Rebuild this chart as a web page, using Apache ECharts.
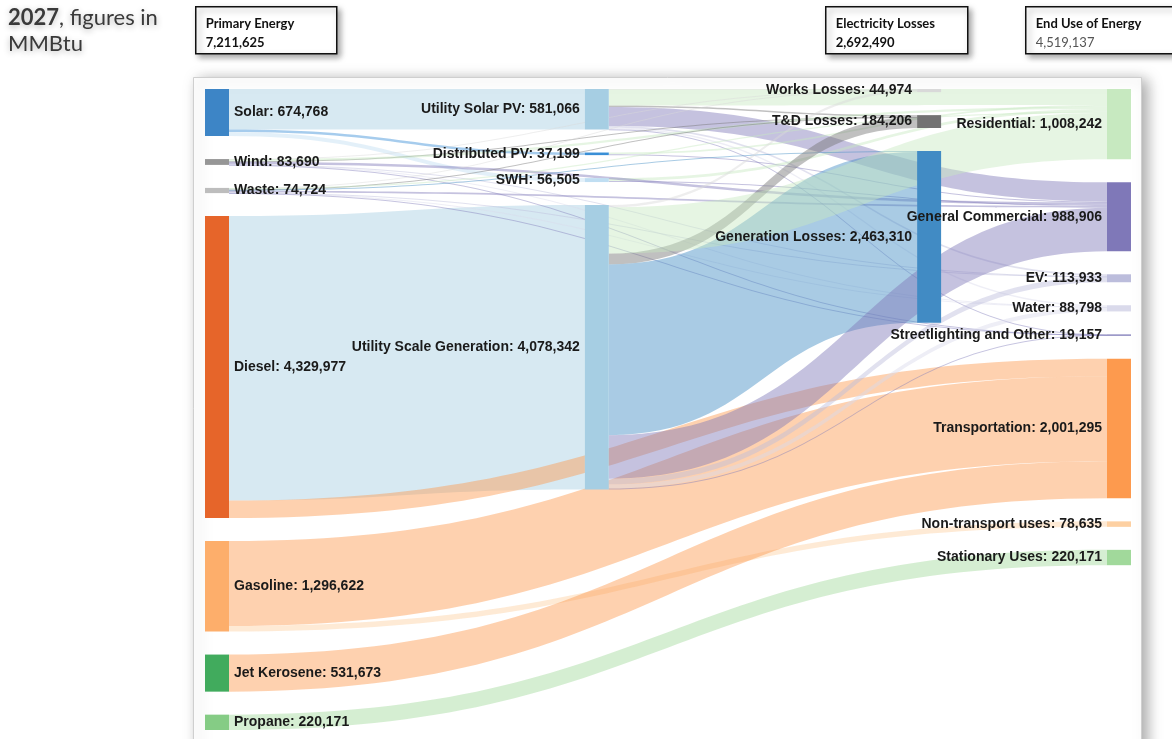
<!DOCTYPE html>
<html>
<head>
<meta charset="utf-8">
<title>2027 energy flows (MMBtu)</title>
<script src="https://cdn.jsdelivr.net/npm/echarts@6/dist/echarts.min.js"></script>
<style>
  html, body { margin: 0; padding: 0; background: #fff; }
  #chart { width: 1172px; height: 739px; }
</style>
</head>
<body>
<div id="chart"></div>
<script>
// node names and values, one list per column
const primaryNodes = ['Solar', 'Wind', 'Waste', 'Diesel', 'Gasoline', 'Jet Kerosene', 'Propane']
const primaryValues = [674768, 83690, 74724, 4329977, 1296622, 531673, 220171]
const conversionNodes = ['Utility Solar PV', 'Distributed PV', 'SWH', 'Utility Scale Generation']
const conversionValues = [581066, 37199, 56505, 4078342]
const lossNodes = ['Works Losses', 'T&D Losses', 'Generation Losses']
const lossValues = [44974, 184206, 2463310]
const endUseNodes = ['Residential', 'General Commercial', 'EV', 'Water', 'Streetlighting and Other',
  'Transportation', 'Non-transport uses', 'Stationary Uses']
const endUseValues = [1008242, 988906, 113933, 88798, 19157, 2001295, 78635, 220171]

// flows [source, target, MMBtu]
const fuelFlows = [
  ['Solar', 'Utility Solar PV', 581066],
  ['Solar', 'Distributed PV', 37199],
  ['Solar', 'SWH', 56505],
  ['Diesel', 'Utility Scale Generation', 4078342],
  ['Diesel', 'Transportation', 251635],
  ['Gasoline', 'Transportation', 1217987],
  ['Gasoline', 'Non-transport uses', 78635],
  ['Jet Kerosene', 'Transportation', 531673],
  ['Propane', 'Stationary Uses', 220171]
]
const solarFlows = [
  ['Utility Solar PV', 'Works Losses', 7066],
  ['Utility Solar PV', 'T&D Losses', 20000],
  ['Utility Solar PV', 'Residential', 230000],
  ['Utility Solar PV', 'General Commercial', 275000],
  ['Utility Solar PV', 'EV', 25000],
  ['Utility Solar PV', 'Water', 20000],
  ['Utility Solar PV', 'Streetlighting and Other', 4000],
  ['Distributed PV', 'Residential', 25000],
  ['Distributed PV', 'General Commercial', 12199],
  ['SWH', 'Residential', 40000],
  ['SWH', 'General Commercial', 16505]
]
const windWasteFlows = [
  ['Wind', 'Works Losses', 3000],
  ['Wind', 'T&D Losses', 5000],
  ['Wind', 'Residential', 30000],
  ['Wind', 'General Commercial', 35690],
  ['Wind', 'EV', 5000],
  ['Wind', 'Water', 4000],
  ['Wind', 'Streetlighting and Other', 1000],
  ['Waste', 'Works Losses', 2000],
  ['Waste', 'T&D Losses', 4000],
  ['Waste', 'Generation Losses', 16000],
  ['Waste', 'Residential', 20000],
  ['Waste', 'General Commercial', 25000],
  ['Waste', 'EV', 4000],
  ['Waste', 'Water', 3000],
  ['Waste', 'Streetlighting and Other', 724]
]
const generationFlows = [
  ['Utility Scale Generation', 'Works Losses', 32908],
  ['Utility Scale Generation', 'T&D Losses', 155206],
  ['Utility Scale Generation', 'Generation Losses', 2447310],
  ['Utility Scale Generation', 'Residential', 663242],
  ['Utility Scale Generation', 'General Commercial', 624512],
  ['Utility Scale Generation', 'EV', 79933],
  ['Utility Scale Generation', 'Water', 61798],
  ['Utility Scale Generation', 'Streetlighting and Other', 13433]
]

// uneven column spacing, like the original layout
const columnDepth = [0, 8, 15, 19]

const nodeColors = {
  'Solar': '#3d85c6',
  'Wind': '#969696',
  'Waste': '#bdbdbd',
  'Diesel': '#e6652a',
  'Gasoline': '#fdae6b',
  'Jet Kerosene': '#41ab5d',
  'Propane': '#85cc85',
  'Utility Solar PV': '#a6cee3',
  'Distributed PV': '#3a8fd6',
  'SWH': '#c0def2',
  'Utility Scale Generation': '#a6cee3',
  'Works Losses': '#d9d9d9',
  'T&D Losses': '#737373',
  'Generation Losses': '#418bc4',
  'Residential': '#c7e9c0',
  'General Commercial': '#7f78b8',
  'EV': '#bcbddc',
  'Water': '#dadaeb',
  'Streetlighting and Other': '#807dba',
  'Transportation': '#fd9a4e',
  'Non-transport uses': '#fdd0a2',
  'Stationary Uses': '#a1d99b'
}

function fmt(n) {
  return String(n).replace(/\B(?=(\d{3})+(?!\d))/g, ',')
}

function sum(arr) {
  return arr.reduce((a, b) => a + b, 0)
}

function buildNodes() {
  const cols = [
    [primaryNodes, primaryValues],
    [conversionNodes, conversionValues],
    [lossNodes, lossValues],
    [endUseNodes, endUseValues]
  ]
  const nodes = []
  cols.forEach(([names, values], c) => {
    names.forEach((name, i) => {
      nodes.push({
        name: name,
        value: values[i],
        depth: columnDepth[c],
        itemStyle: { color: nodeColors[name] }
      })
    })
  })
  return nodes
}

function buildLinks() {
  return [].concat(fuelFlows, solarFlows, windWasteFlows, generationFlows).map(f => ({
    source: f[0], target: f[1], value: f[2]
  }))
}

function headerBox(x, w, title, value, valueBold) {
  return {
    type: 'group',
    left: x,
    top: 6,
    children: [
      {
        type: 'rect',
        shape: { x: 0, y: 0, width: w, height: 47 },
        style: {
          fill: '#fff', stroke: '#111', lineWidth: 1.5,
          shadowBlur: 6, shadowOffsetX: 3, shadowOffsetY: 3, shadowColor: 'rgba(0,0,0,0.35)'
        }
      },
      {
        type: 'text',
        x: 10,
        y: 8,
        style: {
          text: '{t|' + title + '}\n{v|' + value + '}',
          rich: {
            t: { font: 'bold 13px Lato', fill: '#111', lineHeight: 19 },
            v: { font: (valueBold ? 'bold ' : '') + '13px Lato', fill: valueBold ? '#111' : '#555', lineHeight: 19 }
          }
        }
      }
    ]
  }
}

function getOption() {
  return {
    animation: false,
    graphic: [
      {
        type: 'rect',
        left: 193,
        top: 77,
        z: -10,
        shape: { width: 948, height: 700 },
        style: {
          fill: '#fff', stroke: '#cfcfcf', lineWidth: 1,
          shadowBlur: 14, shadowOffsetX: 5, shadowOffsetY: 2, shadowColor: 'rgba(0,0,0,0.35)'
        }
      },
      {
        type: 'text',
        left: 8,
        top: 5,
        style: {
          text: '{b|2027}, figures in\nMMBtu',
          font: '22px Lato',
          fill: '#3a3a3a',
          lineHeight: 26,
          textShadowBlur: 6,
          textShadowColor: 'rgba(0,0,0,0.3)',
          textShadowOffsetY: 2,
          rich: { b: { font: 'bold 22px Lato', fill: '#3a3a3a' } }
        }
      },
      headerBox(195, 141, 'Primary Energy', fmt(sum(primaryValues)), true),
      headerBox(825, 142, 'Electricity Losses', fmt(sum(lossValues)), true),
      headerBox(1025, 152, 'End Use of Energy', fmt(sum(endUseValues)), false)
    ],
    series: [
      {
        type: 'sankey',
        left: 205,
        top: 89,
        right: 41,
        bottom: 9,
        nodeWidth: 24,
        nodeGap: 23,
        // keep the nodes in the given order
        layoutIterations: 0,
        draggable: false,
        emphasis: { disabled: true },
        data: buildNodes(),
        links: buildLinks(),
        itemStyle: { borderWidth: 0 },
        lineStyle: { color: 'target', opacity: 0.45, curveness: 0.5 },
        label: {
          position: 'left',
          color: '#1a1a1a',
          fontFamily: 'Liberation Sans',
          fontWeight: 'bold',
          fontSize: 14,
          formatter: p => p.name + ': ' + fmt(p.value)
        },
        levels: [
          { depth: 0, label: { position: 'right' } }
        ]
      }
    ]
  }
}

const myChart = echarts.init(document.getElementById('chart'))
myChart.setOption(getOption(), true)
</script>
</body>
</html>
